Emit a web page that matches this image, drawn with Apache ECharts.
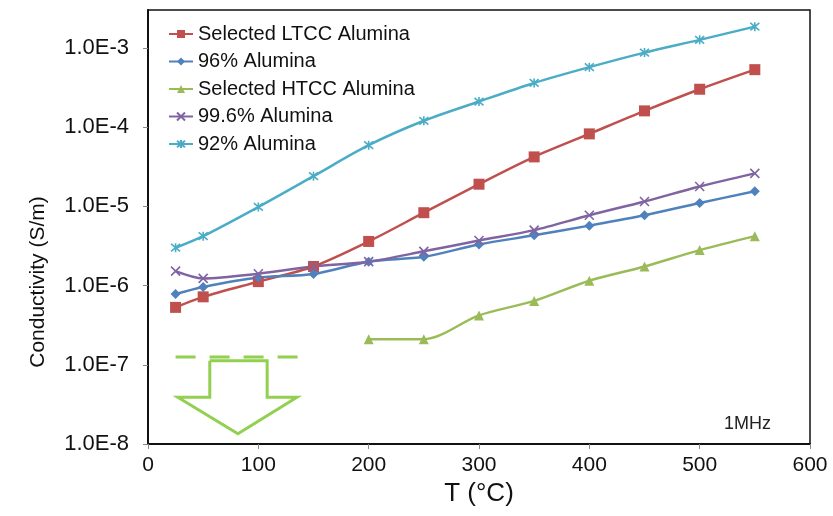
<!DOCTYPE html>
<html>
<head>
<meta charset="utf-8">
<script src="https://cdn.jsdelivr.net/npm/echarts@6/dist/echarts.min.js"></script>
<style>
    html, body { margin: 0; padding: 0; background: #fff; }
    #chart { width: 833px; height: 516px; }
</style>
</head>
<body>
<div id="chart"></div>
<script>
const FONT = "'Liberation Sans', Arial, sans-serif";

// temperatures (°C)
const temps = [25, 50, 100, 150, 200, 250, 300, 350, 400, 450, 500, 550];
const htccTemps = [200, 250, 300, 350, 400, 450, 500, 550];

// conductivity (S/m)
const ltcc = [5.3e-7, 7.2e-7, 1.12e-6, 1.74e-6, 3.6e-6, 8.3e-6, 1.9e-5, 4.2e-5, 8.2e-5, 1.6e-4, 3.0e-4, 5.3e-4];
const alumina96 = [7.8e-7, 9.6e-7, 1.26e-6, 1.4e-6, 2.0e-6, 2.3e-6, 3.3e-6, 4.3e-6, 5.7e-6, 7.7e-6, 1.1e-5, 1.55e-5];
const htcc = [2.1e-7, 2.1e-7, 4.2e-7, 6.4e-7, 1.15e-6, 1.74e-6, 2.8e-6, 4.2e-6];
const alumina996 = [1.52e-6, 1.23e-6, 1.41e-6, 1.74e-6, 2.0e-6, 2.7e-6, 3.7e-6, 5.0e-6, 7.7e-6, 1.15e-5, 1.78e-5, 2.6e-5];
const alumina92 = [3.0e-6, 4.2e-6, 9.8e-6, 2.4e-5, 5.9e-5, 1.2e-4, 2.1e-4, 3.6e-4, 5.7e-4, 8.7e-4, 1.26e-3, 1.85e-3];

const seriesNames = ['Selected LTCC Alumina', '96% Alumina', 'Selected HTCC Alumina', '99.6% Alumina', '92% Alumina'];

// HTCC target annotation (dashed level + down arrow), in data units
const targetLine = [[25, 1.25e-7], [145, 1.25e-7]];
const arrowOutline = [
    [56, 1.12e-7], [56, 3.9e-8], [27, 3.9e-8], [81.5, 1.35e-8],
    [135, 3.9e-8], [108, 3.9e-8], [108, 1.12e-7], [56, 1.12e-7]
];

function pairs(xs, ys) {
    return xs.map((x, i) => [x, ys[i]]);
}

function dataSeries(name, data, color, symbol, size, hollow) {
    return {
        name: name,
        type: 'line',
        data: data,
        smooth: 0.3,
        symbol: symbol,
        symbolSize: size,
        showAllSymbol: true,
        itemStyle: hollow ? {
            color: 'rgba(0,0,0,0)',
            borderColor: color,
            borderWidth: 1.6
        } : {
            color: color
        },
        lineStyle: {
            color: color,
            width: 2.5
        },
        z: 3
    };
}

const X_PATH = 'path://M0,0L10,10M10,0L0,10';
const STAR_PATH = 'path://M0,0L10,10M10,0L0,10M5,-1L5,11';

const option = {
    backgroundColor: '#ffffff',
    animation: false,
    textStyle: { fontFamily: FONT },
    grid: {
        left: 148,
        right: 23,
        top: 10,
        bottom: 72,
        show: true,
        borderColor: '#111',
        borderWidth: 1.5,
        backgroundColor: 'transparent'
    },
    legend: {
        data: seriesNames,
        orient: 'vertical',
        left: 168,
        top: 24,
        padding: 0,
        itemWidth: 24,
        itemHeight: 10,
        itemGap: 7.5,
        textStyle: {
            fontFamily: FONT,
            fontSize: 20,
            color: '#111'
        }
    },
    xAxis: {
        type: 'value',
        min: 0,
        max: 600,
        interval: 100,
        name: 'T (°C)',
        nameLocation: 'middle',
        nameGap: 37,
        nameTextStyle: {
            fontFamily: FONT,
            fontSize: 26,
            color: '#111'
        },
        axisLine: { lineStyle: { color: '#111', width: 2 } },
        axisTick: { show: true, length: 5, lineStyle: { color: '#888' } },
        axisLabel: {
            fontFamily: FONT,
            fontSize: 21,
            color: '#111',
            margin: 11
        },
        splitLine: { show: false }
    },
    yAxis: {
        type: 'log',
        logBase: 10,
        min: 1e-8,
        max: 3e-3,
        axisLine: { show: true, lineStyle: { color: '#111', width: 2 } },
        axisTick: { show: true, length: 5, lineStyle: { color: '#888' } },
        axisLabel: {
            fontFamily: FONT,
            fontSize: 22,
            color: '#111',
            margin: 19,
            showMaxLabel: false,
            formatter: function(v) {
                const e = Math.log10(v);
                if (Math.abs(e - Math.round(e)) > 1e-6) return '';
                return '1.0E' + Math.round(e);
            }
        },
        splitLine: { show: false }
    },
    graphic: [
        {
            type: 'text',
            x: 38,
            y: 282,
            rotation: Math.PI / 2,
            style: {
                text: 'Conductivity (S/m)',
                font: '21px ' + FONT,
                fill: '#111',
                align: 'center',
                verticalAlign: 'middle'
            }
        },
        {
            type: 'text',
            x: 724,
            y: 424,
            style: {
                text: '1MHz',
                font: '18px ' + FONT,
                fill: '#222',
                align: 'left',
                verticalAlign: 'middle'
            }
        }
    ],
    series: [
        dataSeries(seriesNames[0], pairs(temps, ltcc), '#C0504D', 'rect', 11, false),
        dataSeries(seriesNames[1], pairs(temps, alumina96), '#4F81BD', 'diamond', 10, false),
        dataSeries(seriesNames[2], pairs(htccTemps, htcc), '#9BBB59', 'triangle', 10, false),
        dataSeries(seriesNames[3], pairs(temps, alumina996), '#8064A2', X_PATH, 9, true),
        dataSeries(seriesNames[4], pairs(temps, alumina92), '#4BACC6', STAR_PATH, 9, true),
        {
            name: 'target',
            type: 'line',
            data: targetLine,
            symbol: 'none',
            lineStyle: { color: '#92D050', width: 3, type: [20, 14] },
            z: 2
        },
        {
            name: 'arrow',
            type: 'line',
            data: arrowOutline,
            symbol: 'none',
            lineStyle: { color: '#92D050', width: 3, join: 'miter' },
            z: 2
        }
    ]
};

const myChart = echarts.init(document.getElementById('chart'));
myChart.setOption(option);
</script>
</body>
</html>
